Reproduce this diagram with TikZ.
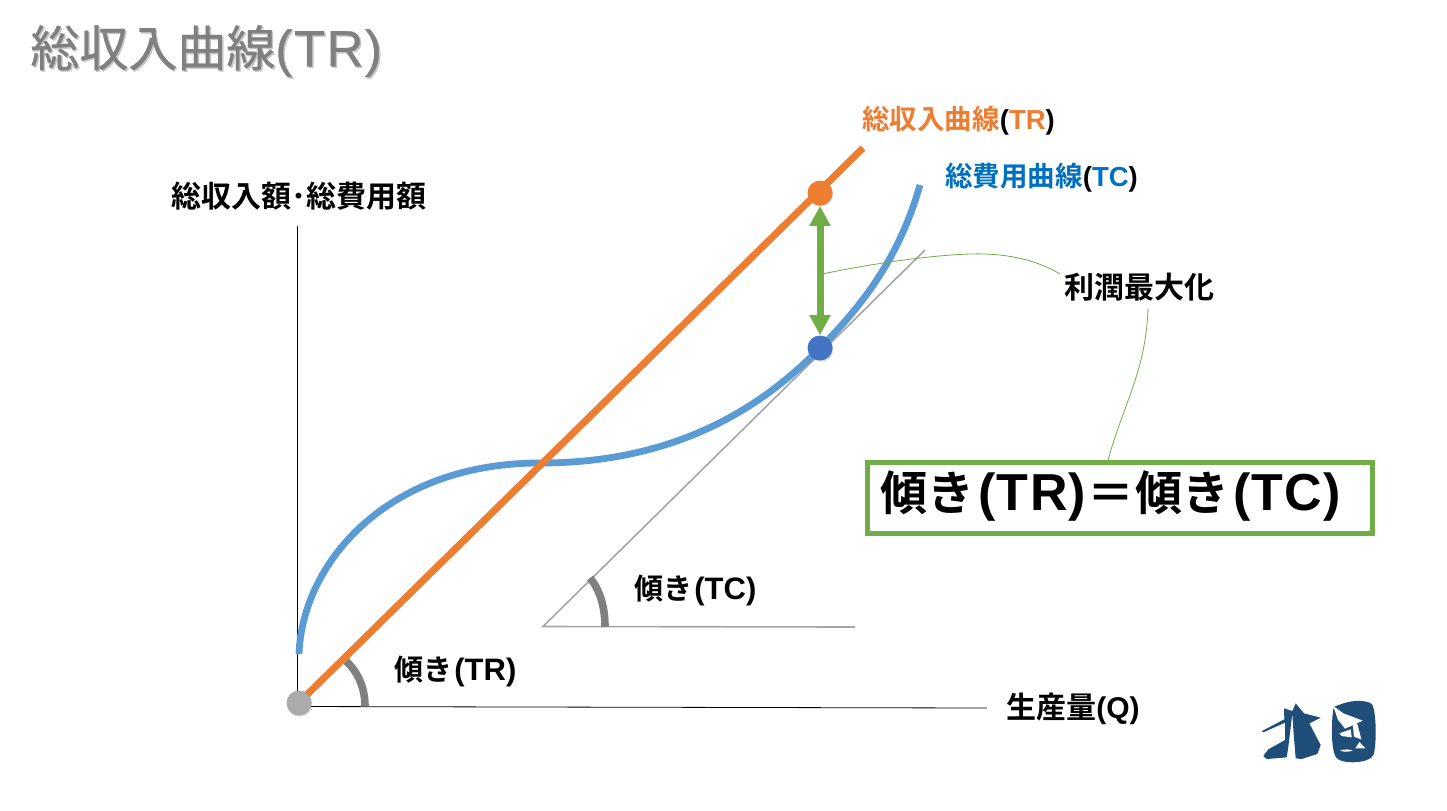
\documentclass[tikz,border=0pt]{standalone}
\usepackage{fontspec}
\setmainfont{Noto Sans CJK JP}[BoldFont={* Bold}]
\newfontfamily\latb{Liberation Sans Bold}
\newfontfamily\latbs{Liberation Sans Bold}[LetterSpace=2.5]
\newfontfamily\titlejp{Noto Sans CJK JP}[FakeBold=0.6]
\newfontfamily\titlelat{Liberation Sans}[FakeBold=0.6,LetterSpace=3]
\newcommand{\lat}[1]{{\latb #1}}
\newcommand{\latk}[1]{{\latb\textcolor{black}{(}#1\textcolor{black}{)}}}
\newcommand{\latn}[1]{\hspace{1pt}{\fontsize{15.5}{18}\selectfont\latb #1}}
\newcommand{\latbig}[1]{{\fontsize{26}{28}\selectfont\latbs #1}}
\newcommand{\ttl}{\fontsize{24.5}{28}\selectfont\titlejp 総収入曲線\fontsize{25.5}{28}\selectfont\titlelat (TR)}
\usetikzlibrary{arrows.meta,shadows}
\definecolor{trorange}{HTML}{ED7D31}
\definecolor{tcblue}{HTML}{5B9BD5}
\definecolor{lblblue}{HTML}{0070C0}
\definecolor{lgreen}{HTML}{70AD47}
\definecolor{dotblue}{HTML}{4472C4}
\definecolor{logoblue}{HTML}{1F4E79}
\tikzset{
 lbl/.style={inner sep=0pt,font=\fontsize{15}{18}\selectfont\bfseries,text=black},
 lblsl/.style={lbl,font=\fontsize{14.5}{18}\selectfont\bfseries},
 lblsm/.style={lbl,font=\fontsize{13.75}{16}\selectfont\bfseries},
 thinline/.style={draw=black,line width=0.4pt},
 guide/.style={draw=black!35,line width=0.8pt},
 anglearc/.style={draw=gray,line width=3.8pt},
 leaderl/.style={draw=lgreen,line width=0.4pt},
 dot/.style={circle,inner sep=0pt,minimum size=12.5pt,drop shadow={shadow xshift=0.4pt,shadow yshift=-0.6pt,opacity=0.3}}
}
\begin{document}
\begin{tikzpicture}[x=0.5pt,y=-0.5pt]
\useasboundingbox (0,0) rectangle (1447,810);
% title
\node[anchor=west,inner sep=0pt,text=gray!45] at (31.5,52.5) {\ttl};
\node (title) [anchor=west,inner sep=0pt,text=gray] at (30,51) {\ttl};
% axes
\coordinate (O) at (298.5,703);
\coordinate (ytop) at (297.5,226);
\coordinate (xstart) at (297.5,706.5);
\coordinate (xend) at (987,708);
\draw[thinline] (ytop) -- (xstart) -- (xend);
% tangent guide
\coordinate (G) at (543,626.5);
\coordinate (Gtop) at (925,250);
\coordinate (Gend) at (855,627);
\draw[guide] (Gtop) -- (G) -- (Gend);
% angle arcs
\draw[anglearc] (346,661) .. controls (358,672) and (365,688) .. (365,706);
\draw[anglearc] (590,578) .. controls (600,590) and (605,607) .. (605,627);
% TC curve
\coordinate (tc0) at (299,654);
\coordinate (tcmid) at (540,463);
\coordinate (P) at (820,348);
\coordinate (tcend) at (920,185);
\draw[tcblue,line width=3.4pt] (tc0) .. controls (302,565) and (385,463) .. (tcmid)
  .. controls (660,463) and (750,420) .. (P) .. controls (865,303) and (900,255) .. (tcend);
% TR line
\coordinate (trend) at (863,148);
\draw[trorange,line width=3.5pt] (O) -- (trend);
% leaders
\node (maxlab) [lbl,anchor=west] at (1064,287) {利潤最大化};
\node (box) [draw=lgreen,line width=2.6pt,minimum width=252.5pt,minimum height=35.5pt,inner sep=0pt,anchor=north west] at (865,460) {};
\node (eq) [inner sep=0pt,anchor=west,font=\fontsize{23.5}{28}\selectfont\bfseries] at (880,496) {傾き\hspace{2pt}\latbig{(TR)}\hspace{0.5pt}＝\hspace{0.5pt}傾き\hspace{2pt}\latbig{(TC)}};
\draw[leaderl] (822,274) .. controls (900,258) and (960,253) .. (985,254) .. controls (1015,255) and (1040,262) .. (1060,274);
\draw[leaderl] (1148,308) .. controls (1146,370) and (1125,400) .. (1108,460);
% double arrow
\node (A) [dot,fill=trorange] at (820,193) {};
\node (B) [dot,fill=dotblue] at (820,348) {};
\draw[lgreen,line width=3.5pt,{Triangle[length=10pt,width=10pt]}-{Triangle[length=10pt,width=10pt]}] (A) -- (B);
\node (Ot) [dot,fill=black!33] at (299,703) {};
% labels
\node (trl) [lblsm,anchor=west,text=trorange] at (862,121) {総収入曲線\latk{TR}};
\node (tcl) [lblsm,anchor=west,text=lblblue] at (945,178) {総費用曲線\latk{TC}};
\node (yl) [lbl,anchor=west] at (171,196) {総収入額･総費用額};
\node (xl) [lbl,anchor=west] at (1006,709) {生産量\lat{(Q)}};
\node (s1) [lblsl,anchor=west] at (394,671) {傾き\latn{(TR)}};
\node (s2) [lblsl,anchor=west] at (634,590) {傾き\latn{(TC)}};
% logo
\begin{scope}[shift={(1230,680)},x=0.1667pt,y=-0.1667pt]
\fill[logoblue] (162,85) -- (187,93) -- (197,70) -- (222,100) -- (272,113) -- (238,130) -- (272,195) -- (262,222) -- (215,237) -- (197,235) -- (190,150) -- (187,100) -- (175,200) -- (170,232) -- (110,237) -- (100,228) -- (115,208) -- (165,180) -- (165,128) -- (100,157) -- (96,153) -- (163,118) -- cycle;
\fill[logoblue] (340,70) .. controls (370,60) and (410,60) .. (425,72) .. controls (440,90) and (440,200) .. (430,225) .. controls (420,250) and (335,255) .. (318,232) .. controls (300,205) and (305,100) .. (312,80) -- cycle;
\fill[white] (310,78) -- (340,100) -- (398,122) -- (345,146) -- (323,118) -- cycle;
\fill[white] (366,113) -- (382,132) -- (394,178) -- (372,170) -- cycle;
\fill[white] (328,160) -- (362,148) -- (365,172) -- (335,168) -- cycle;
\fill[white] (376,205) -- (388,186) -- (406,205) -- cycle;
\fill[white] (330,212) .. controls (345,206) and (360,208) .. (368,212) .. controls (355,216) and (340,216) .. (330,212) -- cycle;
\end{scope}
\end{tikzpicture}
\end{document}
